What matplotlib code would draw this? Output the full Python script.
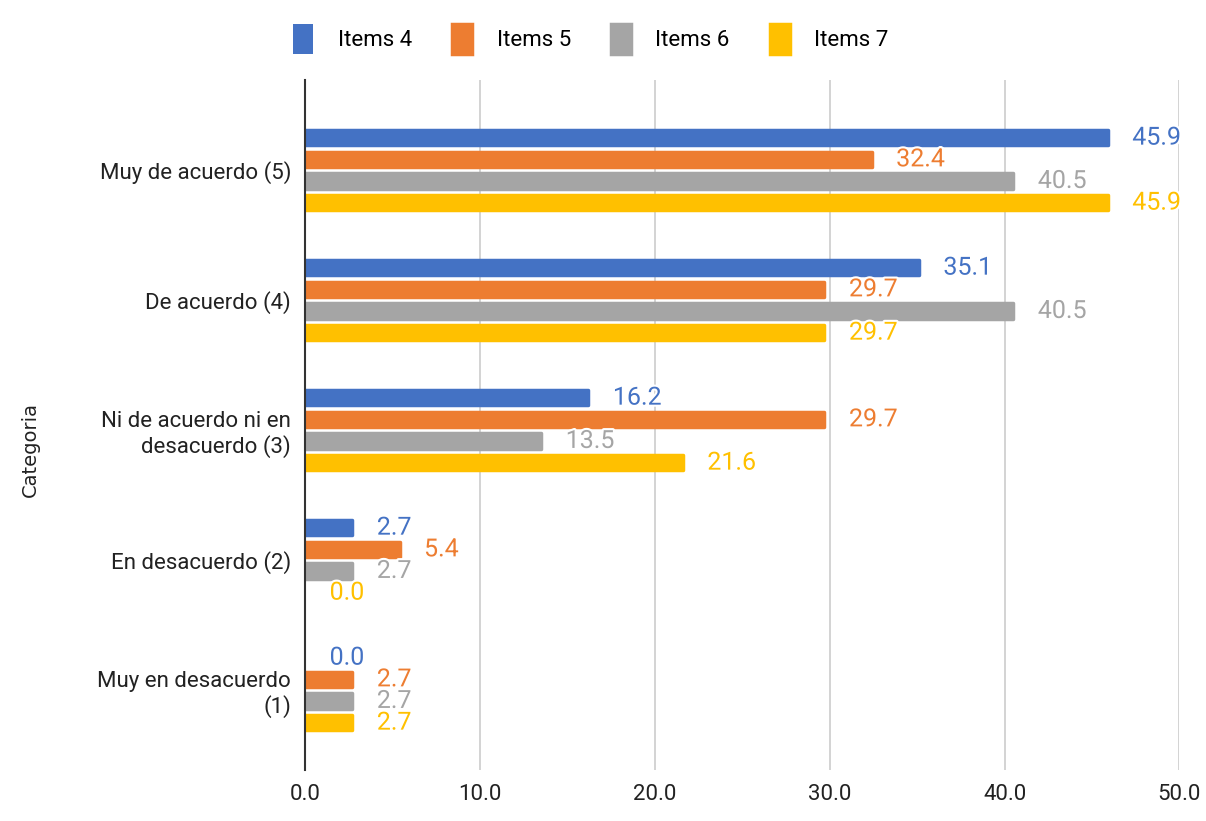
import numpy as np
from matplotlib import pyplot as plt
import matplotlib.patheffects as pe

# Datos (categoria 1 abajo, 5 arriba)
categorias = ["Muy en desacuerdo\n(1)", "En desacuerdo (2)", "Ni de acuerdo ni en\ndesacuerdo (3)",
              "De acuerdo (4)", "Muy de acuerdo (5)"]
series = ["Items 4", "Items 5", "Items 6", "Items 7"]
items4 = [0.0, 2.7, 16.2, 35.1, 45.9]
items5 = [2.7, 5.4, 29.7, 29.7, 32.4]
items6 = [2.7, 2.7, 13.5, 40.5, 40.5]
items7 = [2.7, 0.0, 21.6, 29.7, 45.9]
colores = ["#4472C4", "#ED7D31", "#A5A5A5", "#FFC000"]

plt.rcParams['font.family'] = ['Roboto', 'DejaVu Sans']

fig = plt.figure(figsize=(12.06, 8.21), dpi=100)
ax = fig.add_axes([0.253, 0.062, 0.725, 0.840])

y = np.arange(len(categorias))
desp = [0.25, 0.083, -0.083, -0.25]
alto = 0.12

for valores, d, c, nombre in zip([items4, items5, items6, items7], desp, colores, series):
    bordes = [c if v > 0 else 'none' for v in valores]
    ax.barh(y + d, valores, height=alto, color=c, edgecolor=bordes, linewidth=2.5,
            joinstyle='round', label=nombre, zorder=3)
    for yi, v in zip(y, valores):
        ax.text(v + 1.4, yi + d, f"{v:.1f}", color=c, fontsize=18, va='center', ha='left',
                zorder=5, path_effects=[pe.withStroke(linewidth=3, foreground='white')])

ax.set_xlim(0, 50)
ax.set_ylim(-0.615, 4.69)
ax.set_xticks(np.arange(0, 51, 10))
ax.set_xticklabels([f"{v:.1f}" for v in np.arange(0, 51, 10)], fontsize=16, color='#222222')
ax.set_yticks(y)
ax.set_yticklabels(categorias, fontsize=16, color='#222222')
ax.tick_params(axis='both', length=0, pad=10)
ax.xaxis.grid(True, color='#CCCCCC', linewidth=1.2, zorder=0)
ax.set_axisbelow(True)
for s in ['top', 'right', 'bottom']:
    ax.spines[s].set_visible(False)
ax.spines['left'].set_color('#333333')
ax.spines['left'].set_linewidth(1.5)
ax.spines['left'].set_zorder(4)

fig.text(0.025, 0.452, "Categoria", rotation=90, fontsize=14, va='center', ha='center',
         family='DejaVu Sans', color='#222222')

fig.legend(loc='upper center', bbox_to_anchor=(0.49, 0.995), ncol=4, frameon=False,
           fontsize=16, handlelength=0.9, handleheight=1.7, columnspacing=1.8, handletextpad=1.1)

plt.savefig("out.png", dpi=100)
